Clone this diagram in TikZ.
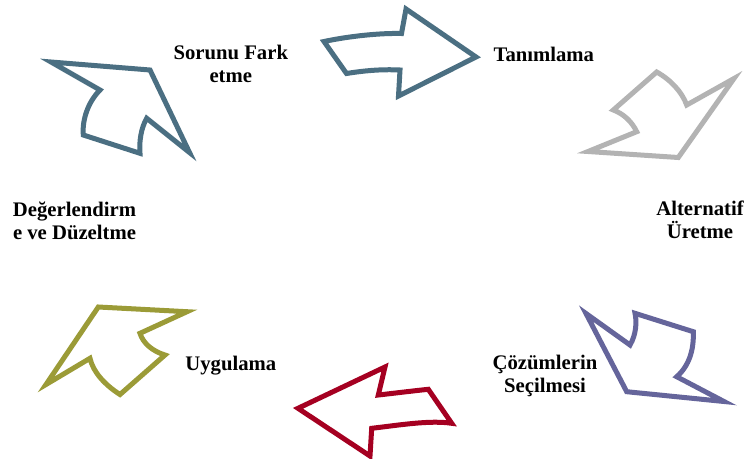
\documentclass[tikz,border=0pt]{standalone}
\usepackage{fontspec}
\setmainfont{Liberation Serif}
\definecolor{slateblue}{RGB}{75,111,130}
\definecolor{lightgreyc}{RGB}{179,179,179}
\definecolor{purplec}{RGB}{101,101,155}
\definecolor{redc}{RGB}{165,0,33}
\definecolor{olivec}{RGB}{155,155,55}
\tikzset{
  arrowshape/.style={line width=5pt, line join=miter, miter limit=10, fill=white},
  lbl/.style={font=\fontsize{20.7}{23}\selectfont\bfseries, inner sep=0pt, anchor=base}
}
\begin{document}
\begin{tikzpicture}[x=1pt,y=-1pt]
\useasboundingbox (0,0) rectangle (747,458);
% arrow 1 (top, right)
\draw[arrowshape, draw=slateblue] (324,41.5) .. controls (350,36) and (380,33) .. (401.5,33.5)
  -- (406,9) -- (476,57) -- (398.5,96) -- (400,70)
  .. controls (380,69) and (362,71) .. (346.5,73.5) -- cycle;
% arrow 2 (top right, grey)
\draw[arrowshape, draw=lightgreyc] (656.7,72) .. controls (671,80) and (682,92) .. (686.7,105)
  -- (734,78.5) -- (678.3,157.5) -- (588,151.5) -- (636.7,131.7)
  .. controls (632,122) and (624,114) .. (613.3,110) -- cycle;
% arrow 3 (bottom right, purple)
\draw[arrowshape, draw=purplec] (586,313.5) -- (630,345)
  .. controls (636,335) and (637,322) .. (635,313.3)
  -- (693.3,331.7) .. controls (694,350) and (689,366) .. (676.7,376.7)
  -- (724,401.5) -- (626.7,391.7) -- cycle;
% arrow 4 (bottom, left, red)
\draw[arrowshape, draw=redc] (298,408.3) -- (385,367) -- (378.3,395)
  .. controls (396,393) and (412,391) .. (428.3,389.3)
  -- (451.7,423.3) .. controls (430,420) and (400,425) .. (371.7,428.3)
  -- (370,456) -- cycle;
% arrow 5 (bottom left, olive)
\draw[arrowshape, draw=olivec] (98.3,307) -- (187,311.7) -- (140,333.3)
  .. controls (143,343) and (152,351) .. (165,355)
  -- (120,394.5) .. controls (105,385) and (93,372) .. (90,358.3)
  -- (46,384.5) -- cycle;
% arrow 6 (top left, blue)
\draw[arrowshape, draw=slateblue] (51,62) -- (150,70) -- (189.5,152.5) -- (146.7,118.3)
  .. controls (141,128) and (139,142) .. (140,153.3)
  -- (83.3,135) .. controls (82,120) and (88,102) .. (100,90) -- cycle;
% labels
\node[lbl] (l1a) at (230.8,59) {Sorunu Fark};
\node[lbl] (l1b) at (230.8,82) {etme};
\node[lbl] (l2) at (543.8,61) {Tanımlama};
\node[lbl] (l3a) at (700,215) {Alternatif};
\node[lbl] (l3b) at (700,238) {Üretme};
\node[lbl] (l4a) at (545,369) {Çözümlerin};
\node[lbl] (l4b) at (545,392) {Seçilmesi};
\node[lbl] (l5) at (230.8,370.5) {Uygulama};
\node[lbl] (l6a) at (74.5,216.5) {Değerlendirm};
\node[lbl] (l6b) at (74.5,239.5) {e ve Düzeltme};
\end{tikzpicture}
\end{document}
